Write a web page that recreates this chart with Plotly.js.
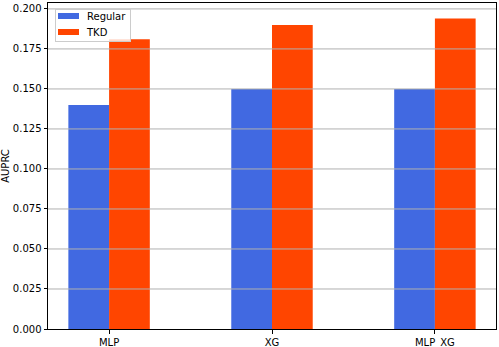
<!DOCTYPE html>
<html>
<head>
<meta charset="utf-8">
<script src="https://cdn.plot.ly/plotly-3.0.1.min.js"></script>
<style>html,body{margin:0;padding:0;background:#fff}</style>
</head>
<body>
<div id="plot" style="width:499px;height:347px"></div>
<script>
var models = ['MLP', 'XG', 'MLP_XG'];
var regular = [0.140, 0.150, 0.150];
var tkd = [0.181, 0.190, 0.194];
var yTicks = [0, 0.025, 0.05, 0.075, 0.1, 0.125, 0.15, 0.175, 0.2];

var trace1 = {
  x: models,
  y: regular,
  name: 'Regular',
  type: 'bar',
  marker: {color: '#4169E1'}
};

var trace2 = {
  x: models,
  y: tkd,
  name: 'TKD',
  type: 'bar',
  marker: {color: '#FF4500'}
};

// matplotlib draws the grid over the bars here
var gridShapes = yTicks.slice(1).map(function (v) {
  return {type: 'line', layer: 'above', xref: 'paper', x0: 0, x1: 1, yref: 'y', y0: v, y1: v,
          line: {color: '#b0b0b0', width: 1}};
});

var layout = {
  barmode: 'group',
  bargap: 0.5,
  bargroupgap: 0,
  width: 499,
  height: 347,
  margin: {l: 48, r: 3, t: 3, b: 18},
  paper_bgcolor: '#fff',
  plot_bgcolor: '#fff',
  font: {family: 'DejaVu Sans', size: 10, color: '#000'},
  showlegend: true,
  legend: {
    x: 0.015, y: 0.985, xanchor: 'left', yanchor: 'top',
    bgcolor: 'rgba(255,255,255,0.8)', bordercolor: '#cccccc', borderwidth: 1,
    font: {size: 10}, tracegroupgap: 0
  },
  shapes: gridShapes,
  xaxis: {
    type: 'category',
    range: [-0.375, 2.375],
    showgrid: false,
    showline: true, linecolor: '#000', linewidth: 1, mirror: true,
    ticks: 'outside', ticklen: 3.5, tickcolor: '#000',
    zeroline: false
  },
  yaxis: {
    title: {text: 'AUPRC', font: {size: 10}, standoff: 6},
    range: [0, 0.2037],
    tickvals: yTicks,
    tickformat: '.3f',
    showgrid: false,
    showline: true, linecolor: '#000', linewidth: 1, mirror: true,
    ticks: 'outside', ticklen: 3.5, tickcolor: '#000',
    zeroline: false
  }
};

Plotly.newPlot('plot', [trace1, trace2], layout, {displayModeBar: false}).then(function (gd) {
  // compact matplotlib-like legend: wide patches, tighter rows
  var leg = gd.querySelector('.legend');
  if (!leg) return;
  leg.setAttribute('transform', 'translate(55,9)');
  var bg = leg.querySelector('rect.bg');
  if (bg) { bg.setAttribute('width', 75); bg.setAttribute('height', 32); bg.setAttribute('x', 0.5); bg.setAttribute('y', 0.5); }
  var sb = leg.querySelector('.scrollbox');
  if (sb) sb.setAttribute('transform', 'translate(0,0)');
  var groups = leg.querySelectorAll('.groups');
  groups.forEach(function (g) { g.setAttribute('transform', 'translate(0,0)'); });
  leg.querySelectorAll('.traces').forEach(function (t, i) {
    t.setAttribute('transform', 'translate(0,' + (7 + 16 * i) + ')');
    var pts = t.querySelector('.legendpoints');
    if (pts) {
      pts.setAttribute('transform', 'translate(0,0)');
      pts.querySelectorAll('path').forEach(function (p) {
        p.setAttribute('transform', 'translate(0,0)');
        p.setAttribute('d', 'M3,-3H24V3H3Z');
      });
    }
    var txt = t.querySelector('text.legendtext');
    if (txt) txt.setAttribute('x', 32);
  });
});
</script>
</body>
</html>
